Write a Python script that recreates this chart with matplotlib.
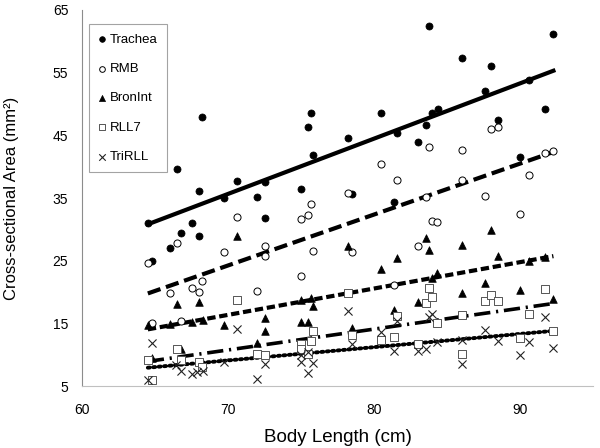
import numpy as np
import matplotlib
matplotlib.use("Agg")
import matplotlib.pyplot as plt

plt.rcParams["font.family"] = ["Liberation Sans", "DejaVu Sans"]

# --- data (body length cm, area mm^2) ---
trachea_x = [64.5, 64.8, 66.0, 66.5, 66.8, 67.5, 68.0, 68.0, 68.2, 69.7, 70.6, 72.0,
             72.5, 72.5, 75.0, 75.5, 75.7, 75.8, 78.2, 78.5, 80.5, 81.4, 81.6, 83.0,
             83.6, 83.8, 84.0, 84.4, 86.0, 87.6, 88.0, 88.5, 90.0, 90.6, 91.7, 92.3]
trachea_y = [31.0, 25.0, 27.1, 39.7, 29.5, 31.0, 28.9, 36.1, 47.9, 35.0, 37.7, 35.2,
             37.6, 31.8, 36.5, 46.3, 48.5, 41.8, 44.6, 35.6, 48.6, 34.3, 45.3, 43.9,
             46.6, 62.4, 48.5, 49.2, 57.4, 52.0, 56.1, 47.4, 41.6, 53.8, 49.2, 61.2]

rmb_x = [64.5, 64.8, 66.0, 66.5, 66.8, 67.5, 68.0, 68.2, 69.7, 70.6, 72.0, 72.5,
         72.5, 75.0, 75.0, 75.5, 75.7, 75.8, 78.2, 78.5, 80.5, 81.4, 81.6, 83.0,
         83.6, 83.8, 84.0, 84.3, 86.0, 86.0, 87.6, 88.0, 88.5, 90.0, 90.6, 91.7, 92.3]
rmb_y = [24.7, 15.0, 19.8, 27.8, 15.4, 20.7, 20.0, 21.7, 26.4, 32.0, 20.2, 27.4,
         25.7, 31.6, 22.6, 32.3, 34.0, 26.5, 35.8, 26.4, 40.4, 21.1, 37.9, 27.3,
         35.2, 43.2, 31.3, 31.2, 42.6, 37.9, 35.3, 46.0, 46.3, 32.4, 38.7, 42.2, 42.5]

bron_x = [64.5, 64.8, 66.0, 66.5, 66.8, 67.5, 68.0, 68.3, 69.7, 70.6, 72.0, 72.5,
          72.5, 75.0, 75.0, 75.5, 75.7, 75.8, 78.2, 78.5, 80.5, 81.4, 81.6, 83.0,
          83.6, 83.8, 84.0, 84.3, 86.0, 86.0, 87.6, 88.0, 88.5, 90.0, 90.6, 91.7, 92.3]
bron_y = [14.8, 9.5, 14.9, 18.1, 11.0, 15.3, 18.5, 15.5, 14.8, 28.9, 11.9, 15.9,
          13.8, 15.2, 18.7, 15.3, 19.0, 17.8, 27.4, 14.3, 23.7, 17.2, 25.5, 18.4,
          28.6, 26.7, 22.3, 23.0, 27.5, 19.8, 21.4, 29.9, 25.8, 20.3, 24.9, 25.6, 18.9]

rll7_x = [64.5, 64.8, 66.5, 66.8, 68.0, 68.2, 70.6, 72.0, 72.5, 75.0, 75.0, 75.5,
          75.7, 75.8, 78.2, 78.5, 80.5, 81.4, 81.6, 83.0, 83.6, 83.8, 84.0, 84.3,
          86.0, 86.0, 87.6, 88.0, 88.5, 90.0, 90.6, 91.7, 92.3]
rll7_y = [9.1, 6.0, 10.9, 9.1, 8.8, 8.0, 18.7, 10.2, 9.9, 11.7, 11.0, 10.2,
          12.2, 13.8, 19.9, 13.1, 12.4, 12.8, 16.2, 11.7, 18.2, 20.7, 19.2, 15.0,
          16.3, 10.1, 18.6, 19.5, 18.6, 12.7, 16.5, 20.5, 13.8]

tri_x = [64.5, 64.8, 66.4, 66.8, 67.5, 67.9, 68.3, 69.7, 70.6, 72.0, 72.5, 75.0,
         75.0, 75.5, 75.5, 75.8, 78.2, 78.5, 80.5, 81.4, 81.6, 83.0, 83.6, 83.8,
         84.0, 84.3, 86.0, 86.0, 87.6, 88.5, 90.0, 90.6, 91.7, 92.3]
tri_y = [6.0, 11.9, 8.3, 7.4, 7.0, 7.3, 7.4, 8.8, 14.1, 6.1, 8.5, 9.9,
         8.9, 10.5, 7.1, 8.7, 17.0, 11.8, 13.6, 10.6, 15.4, 10.6, 11.0, 16.0,
         16.5, 12.0, 12.4, 8.6, 13.9, 12.2, 9.9, 12.1, 16.1, 11.1]

labels = ["Trachea", "RMB", "BronInt", "RLL7", "TriRLL"]
x_ticks = [60, 70, 80, 90]
y_ticks = [5, 15, 25, 35, 45, 55, 65]

fig = plt.figure(figsize=(6.0, 4.48), dpi=100)
ax = fig.add_axes([0.137, 0.138, 0.851, 0.840])

series = [
    (trachea_x, trachea_y, dict(marker="o", s=26, c="black", edgecolors="black", linewidths=0.5),
     dict(linestyle="-", linewidth=3.0)),
    (rmb_x, rmb_y, dict(marker="o", s=26, facecolors="white", edgecolors="black", linewidths=0.7),
     dict(linestyle=(0, (3.2, 1.4)), linewidth=3.0)),
    (bron_x, bron_y, dict(marker="^", s=30, c="black", edgecolors="black", linewidths=0.5),
     dict(linestyle=(0, (2.0, 0.9)), linewidth=3.0)),
    (rll7_x, rll7_y, dict(marker="s", s=28, facecolors="white", edgecolors="#555555", linewidths=0.7),
     dict(linestyle=(0, (4.5, 1.6, 0.6, 1.6)), linewidth=2.6)),
    (tri_x, tri_y, dict(marker="x", s=34, c="#222222", linewidths=0.8),
     dict(linestyle=(0, (0.5, 0.9)), linewidth=2.8, dash_capstyle="round")),
]

for (xs, ys, mk, ln), lab in zip(series, labels):
    ax.scatter(xs, ys, label=lab, zorder=3, **mk)
    # linear trend line for each series
    slope, icpt = np.polyfit(xs, ys, 1)
    xl = np.array([min(xs), max(xs)])
    ax.plot(xl, slope * xl + icpt, color="black", zorder=2, **ln)

ax.set_xlim(60, 95)
ax.set_ylim(5, 65)
ax.set_xticks(x_ticks)
ax.set_yticks(y_ticks)
ax.tick_params(length=0, labelsize=10, colors="black")
ax.tick_params(axis="y", pad=10)
ax.tick_params(axis="x", pad=12)

for side in ("top", "right"):
    ax.spines[side].set_visible(False)
ax.spines["left"].set_color("#8c8c8c")
ax.spines["bottom"].set_color("#c0c0c0")

ax.set_xlabel("Body Length (cm)", fontsize=13.5, labelpad=9)
ax.set_ylabel("Cross-sectional Area (mm²)", fontsize=12, labelpad=24)

leg = ax.legend(loc="upper left", bbox_to_anchor=(0.013, 0.962), borderaxespad=0,
                fontsize=9.5, frameon=True, fancybox=False, labelspacing=1.3,
                handlelength=0.6, handletextpad=0.3, borderpad=0.7, scatterpoints=1,
                markerscale=0.8)
leg.get_frame().set_edgecolor("#8c8c8c")
leg.get_frame().set_linewidth(0.8)

fig.savefig("out.png", dpi=100)
